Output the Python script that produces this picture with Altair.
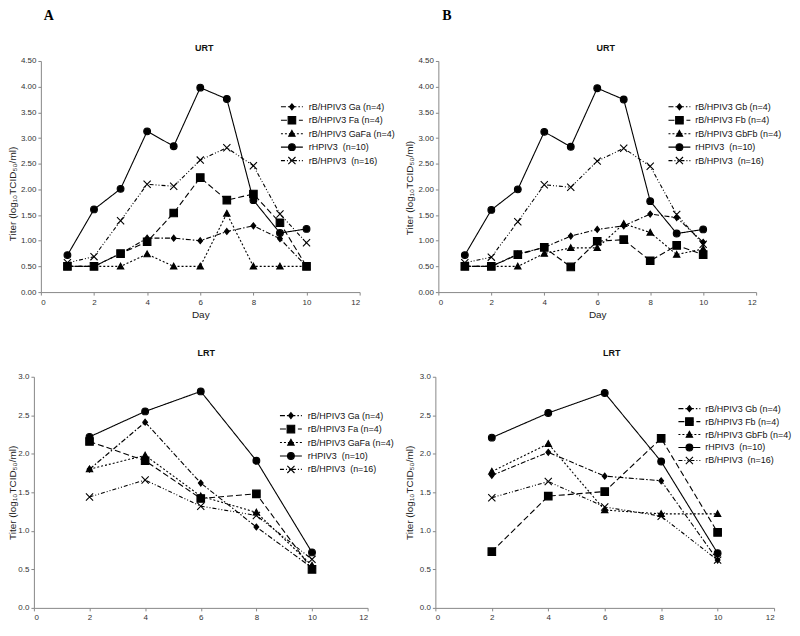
import altair as alt
import pandas as pd

# ---------------- data ----------------
days_urt = [1, 2, 3, 4, 5, 6, 7, 8, 9, 10]
days_lrt = [2, 4, 6, 8, 10]

NB = "\u00a0"
names_a = ["rB/HPIV3 Ga (n=4)", "rB/HPIV3 Fa (n=4)", "rB/HPIV3 GaFa (n=4)",
           "rHPIV3 " + NB + "(n=10)", "rB/HPIV3 " + NB + "(n=16)"]
names_b = ["rB/HPIV3 Gb (n=4)", "rB/HPIV3 Fb (n=4)", "rB/HPIV3 GbFb (n=4)",
           "rHPIV3 " + NB + "(n=10)", "rB/HPIV3 " + NB + "(n=16)"]

# Panel A, URT
a_urt_ga = [0.50, 0.50, 0.75, 1.05, 1.05, 1.00, 1.18, 1.29, 1.04, 0.50]
a_urt_fa = [0.50, 0.50, 0.75, 0.98, 1.54, 2.23, 1.79, 1.91, 1.35, 0.50]
a_urt_gafa = [0.50, 0.50, 0.50, 0.74, 0.50, 0.50, 1.53, 0.50, 0.50, 0.50]
a_urt_rh = [0.72, 1.61, 2.01, 3.13, 2.84, 3.98, 3.76, 1.79, 1.15, 1.23]
a_urt_rb = [0.57, 0.69, 1.39, 2.10, 2.06, 2.57, 2.81, 2.46, 1.52, 0.96]

# Panel B, URT
b_urt_gb = [0.50, 0.50, 0.74, 0.87, 1.09, 1.22, 1.29, 1.52, 1.45, 0.97]
b_urt_fb = [0.50, 0.50, 0.73, 0.87, 0.49, 0.99, 1.02, 0.61, 0.91, 0.73]
b_urt_gbfb = [0.50, 0.50, 0.50, 0.75, 0.86, 0.86, 1.33, 1.16, 0.73, 0.84]
b_urt_rh = [0.72, 1.60, 2.00, 3.12, 2.83, 3.97, 3.75, 1.77, 1.14, 1.22]
b_urt_rb = [0.57, 0.68, 1.37, 2.09, 2.04, 2.55, 2.80, 2.45, 1.51, 0.93]

# Panel A, LRT
a_lrt_ga = [1.80, 2.41, 1.62, 1.05, 0.52]
a_lrt_fa = [2.16, 1.91, 1.42, 1.48, 0.50]
a_lrt_gafa = [1.80, 1.98, 1.45, 1.24, 0.55]
a_lrt_rh = [2.22, 2.55, 2.81, 1.91, 0.72]
a_lrt_rb = [1.44, 1.66, 1.32, 1.20, 0.63]

# Panel B, LRT
b_lrt_gb = [1.72, 2.02, 1.71, 1.65, 0.62]
b_lrt_fb = [0.73, 1.45, 1.51, 2.20, 0.98]
b_lrt_gbfb = [1.77, 2.13, 1.27, 1.22, 1.22]
b_lrt_rh = [2.21, 2.53, 2.79, 1.90, 0.71]
b_lrt_rb = [1.43, 1.64, 1.31, 1.19, 0.62]

keys = ["s0", "s1", "s2", "s3", "s4"]
x_ticks = [0, 2, 4, 6, 8, 10, 12]
urt_ticks = [0, 0.5, 1.0, 1.5, 2.0, 2.5, 3.0, 3.5, 4.0, 4.5]
lrt_ticks = [0, 0.5, 1.0, 1.5, 2.0, 2.5, 3.0]

# ---------------- styles ----------------
FONT = "Liberation Sans"
shape_paths = [
    "M0,-0.75L0.6,0L0,0.75L-0.6,0Z",
    "M-0.95,-0.95L0.95,-0.95L0.95,0.95L-0.95,0.95Z",
    "M0,-0.8L0.8,0.65L-0.8,0.65Z",
    "M-0.85,0A0.85,0.85,0,1,1,0.85,0A0.85,0.85,0,1,1,-0.85,0Z",
    "M-0.9,-0.9L0.9,0.9M-0.9,0.9L0.9,-0.9",
]
dashes = [[5, 2, 1.5, 2], [6, 3], [2, 2], [1, 0], [4, 2, 1, 2, 1, 2]]
shape_scale = alt.Scale(domain=keys, range=shape_paths)
dash_scale = alt.Scale(domain=keys, range=dashes)


def long_df(days, series_vals, names):
    rows = []
    for k, nm, vals in zip(keys, names, series_vals):
        for d, v in zip(days, vals):
            rows.append({"day": d, "titer": v, "key": k, "series": nm})
    return pd.DataFrame(rows)


def panel(days, series_vals, names, ymax, yvals, yfmt, title, width, xrange,
          yoff, title_x, title_y, xtitle, leg, letter, letter_x, t_x, t_y):
    df = long_df(days, series_vals, names)
    if xtitle:
        xax = alt.Axis(values=x_ticks, format="d", title=xtitle, labelPadding=3,
                       titlePadding=4)
    else:
        xax = alt.Axis(values=x_ticks, format="d", title=None, labelPadding=3)
    yax_kwargs = dict(values=yvals, format=yfmt,
                      title="Titer (log\u2081\u2080TCID\u2085\u2080/ml)",
                      labelPadding=2, titleX=title_x, offset=yoff)
    if title_y is not None:
        yax_kwargs["titleY"] = title_y
    yax = alt.Axis(**yax_kwargs)
    x = alt.X("day:Q", scale=alt.Scale(domain=[0, 12], range=xrange, nice=False), axis=xax)
    y = alt.Y("titer:Q", scale=alt.Scale(domain=[0, ymax], nice=False), axis=yax)
    base = alt.Chart(df)
    lines = base.mark_line(color="black", strokeWidth=1.1).encode(
        x=x, y=y,
        strokeDash=alt.StrokeDash("key:N", scale=dash_scale, legend=None),
        detail="key:N",
        order="day:Q",
    )
    pts = base.mark_point(filled=True, color="black", stroke="black", strokeWidth=1.1,
                          opacity=1, size=64).encode(
        x=x, y=y,
        shape=alt.Shape("key:N", scale=shape_scale, legend=None),
    )
    main = alt.layer(lines, pts)

    lx0, lx1, lxm, ltx, ly0, ly1 = leg
    ldf = pd.DataFrame({"key": keys, "series": names})
    ly = alt.Y("key:N", scale=alt.Scale(type="point", domain=keys, range=[ly0, ly1], padding=0),
               axis=None)
    lb = alt.Chart(ldf)
    lrule = lb.mark_rule(color="black", strokeWidth=1.1).encode(
        x=alt.value(lx0), x2=alt.value(lx1), y=ly,
        strokeDash=alt.StrokeDash("key:N", scale=dash_scale, legend=None),
    )
    lpt = lb.mark_point(filled=True, color="black", stroke="black", strokeWidth=1.1,
                        opacity=1, size=64).encode(
        x=alt.value(lxm), y=ly,
        shape=alt.Shape("key:N", scale=shape_scale, legend=None),
    )
    ltxt = lb.mark_text(align="left", baseline="middle", font=FONT, fontSize=9,
                        color="#111").encode(x=alt.value(ltx), y=ly, text="series:N")
    legend = alt.layer(lrule, lpt, ltxt)

    ttl = alt.Chart(pd.DataFrame({"t": [title]})).mark_text(
        align="center", baseline="middle", font=FONT, fontSize=9, fontWeight="bold",
        color="#111").encode(x=alt.value(t_x), y=alt.value(t_y), text="t:N")

    layers = [main, legend, ttl]
    if letter:
        let = alt.Chart(pd.DataFrame({"t": [letter]})).mark_text(
            align="left", baseline="top", font="Liberation Serif", fontSize=14,
            fontWeight="bold", color="black").encode(
            x=alt.value(letter_x), y=alt.value(-52), text="t:N")
        layers.append(let)
    ch = alt.layer(*layers).resolve_scale(y="independent").properties(
        width=width, height=232,
    )
    return ch


top_a = panel(days_urt, [a_urt_ga, a_urt_fa, a_urt_gafa, a_urt_rh, a_urt_rb], names_a,
              4.5, urt_ticks, ".2f", "URT", 327, [7, 327], -7, -23, 133, "Day",
              (248, 270, 259, 276, 46, 100), "A", 10, 171, -13)
top_b = panel(days_urt, [b_urt_gb, b_urt_fb, b_urt_gbfb, b_urt_rh, b_urt_rb], names_b,
              4.5, urt_ticks, ".2f", "URT", 322, [3, 322], -3, -24, 127, "Day",
              (234, 256, 245, 261, 46, 100), "B", 7, 171, -13)
bot_a = panel(days_lrt, [a_lrt_ga, a_lrt_fa, a_lrt_gafa, a_lrt_rh, a_lrt_rb], names_a,
              3.0, lrt_ticks, ".1f", "LRT", 335, [0, 335], 0, -16, None, None,
              (247, 269, 258, 275, 39, 93), None, 0, 173, -24)
bot_b = panel(days_lrt, [b_lrt_gb, b_lrt_fb, b_lrt_gbfb, b_lrt_rh, b_lrt_rb], names_b,
              3.0, lrt_ticks, ".1f", "LRT", 340, [0, 340], 0, -21, None, None,
              (244, 266, 255, 271, 32, 84), None, 0, 177, -24)

chart = alt.concat(top_a, top_b, bot_a, bot_b, columns=2,
                   spacing={"row": 85, "column": 68}, bounds="flush").properties(
    padding=0
).configure_axis(
    domainColor="#888", tickColor="#888", tickSize=3, grid=False,
    labelFont=FONT, labelFontSize=8, labelColor="#333",
    titleFont=FONT, titleFontSize=10, titleFontWeight="normal", titleColor="#222",
).configure_view(stroke=None)

chart.save("out.html", embed_options={"renderer": "svg", "actions": False})
